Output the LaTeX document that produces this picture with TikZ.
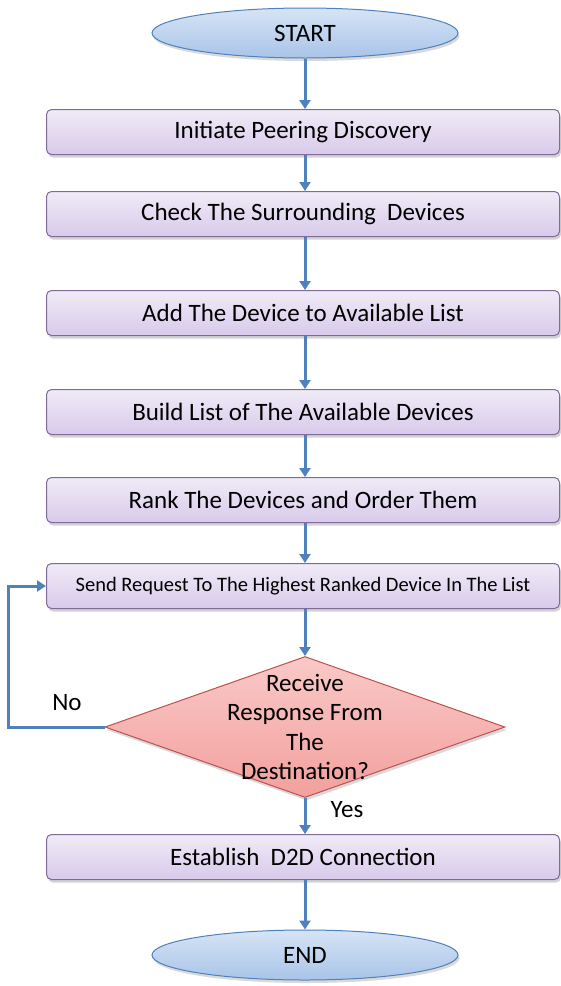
\documentclass[tikz,border=0pt]{standalone}
\usepackage{fontspec}
\setmainfont{Carlito}
\usetikzlibrary{arrows.meta,shapes.geometric,shadows}
\definecolor{arrowblue}{HTML}{4F81BD}
\definecolor{boxedge}{HTML}{7F6A98}
\definecolor{boxtop}{HTML}{F0EBF7}
\definecolor{boxbot}{HTML}{D8CAEB}
\definecolor{elltop}{HTML}{D6E4F5}
\definecolor{ellbot}{HTML}{A9C4E8}
\definecolor{elledge}{HTML}{4F81BD}
\definecolor{dtop}{HTML}{F9C9C7}
\definecolor{dbot}{HTML}{F2A09D}
\definecolor{dedge}{HTML}{C0504D}
\tikzset{
  procbox/.style={draw=boxedge, line width=1pt, rounded corners=5pt,
    top color=boxtop, bottom color=boxbot, minimum width=513pt, minimum height=45pt,
    inner sep=0pt, font=\fontsize{25}{30}\selectfont,
    drop shadow={opacity=0.35, shadow xshift=1.5pt, shadow yshift=-3pt}},
  termell/.style={ellipse, draw=elledge, line width=1pt, top color=elltop, bottom color=ellbot,
    minimum width=306pt, minimum height=50pt, inner sep=0pt, font=\fontsize{25}{30}\selectfont,
    drop shadow={opacity=0.3, shadow xshift=1.5pt, shadow yshift=-3pt}},
  decide/.style={diamond, draw=dedge, line width=1pt, top color=dtop, bottom color=dbot,
    minimum width=400pt, minimum height=141pt, inner sep=0pt,
    drop shadow={opacity=0.3, shadow xshift=1.5pt, shadow yshift=-3pt}},
  flow/.style={draw=arrowblue, line width=3pt, -{Triangle[length=9pt,width=11pt]}},
  lbl/.style={font=\fontsize{25}{30}\selectfont, inner sep=0pt}
}
\begin{document}
\begin{tikzpicture}[x=1pt,y=-1pt]
\useasboundingbox (0,0) rectangle (560,986);
\node[termell] (start) at (305,33) {START};
\node[procbox] (b1) at (303,132) {Initiate Peering Discovery};
\node[procbox] (b2) at (303,214) {Check The Surrounding\ \ Devices};
\node[procbox] (b3) at (303,313) {Add The Device to Available List};
\node[procbox] (b4) at (303,412) {Build List of The Available Devices};
\node[procbox] (b5) at (303,500) {Rank The Devices and Order Them};
\node[procbox, font=\fontsize{20.5}{24}\selectfont] (b6) at (303,586) {Send Request To The Highest Ranked Device In The List};
\node[decide] (dec) at (305,727) {};
\node[lbl, align=center, font=\fontsize{25}{29.5}\selectfont] (dtext) at (305,727) {Receive\\Response From\\The\\Destination?};
\node[procbox] (b7) at (303,857) {Establish\ \ D2D Connection};
\node[termell] (end) at (305,955) {END};
\coordinate (c1) at (8,727);
\coordinate (c2) at (8,586);
\draw[flow] (start.south -| 305,0) -- (b1.north -| 305,0);
\draw[flow] (b1.south -| 305,0) -- (b2.north -| 305,0);
\draw[flow] (b2.south -| 305,0) -- (b3.north -| 305,0);
\draw[flow] (b3.south -| 305,0) -- (b4.north -| 305,0);
\draw[flow] (b4.south -| 305,0) -- (b5.north -| 305,0);
\draw[flow] (b5.south -| 305,0) -- (b6.north -| 305,0);
\draw[flow] (b6.south -| 305,0) -- (dec.north);
\draw[flow] (dec.south) -- (b7.north -| 305,0);
\draw[flow] (b7.south -| 305,0) -- (end.north);
\draw[flow] (dec.west) -- (c1) -- (c2) -- (b6.west);
\node[lbl] (no) at (67,703) {No};
\node[lbl] (yes) at (347,810) {Yes};
\end{tikzpicture}
\end{document}
